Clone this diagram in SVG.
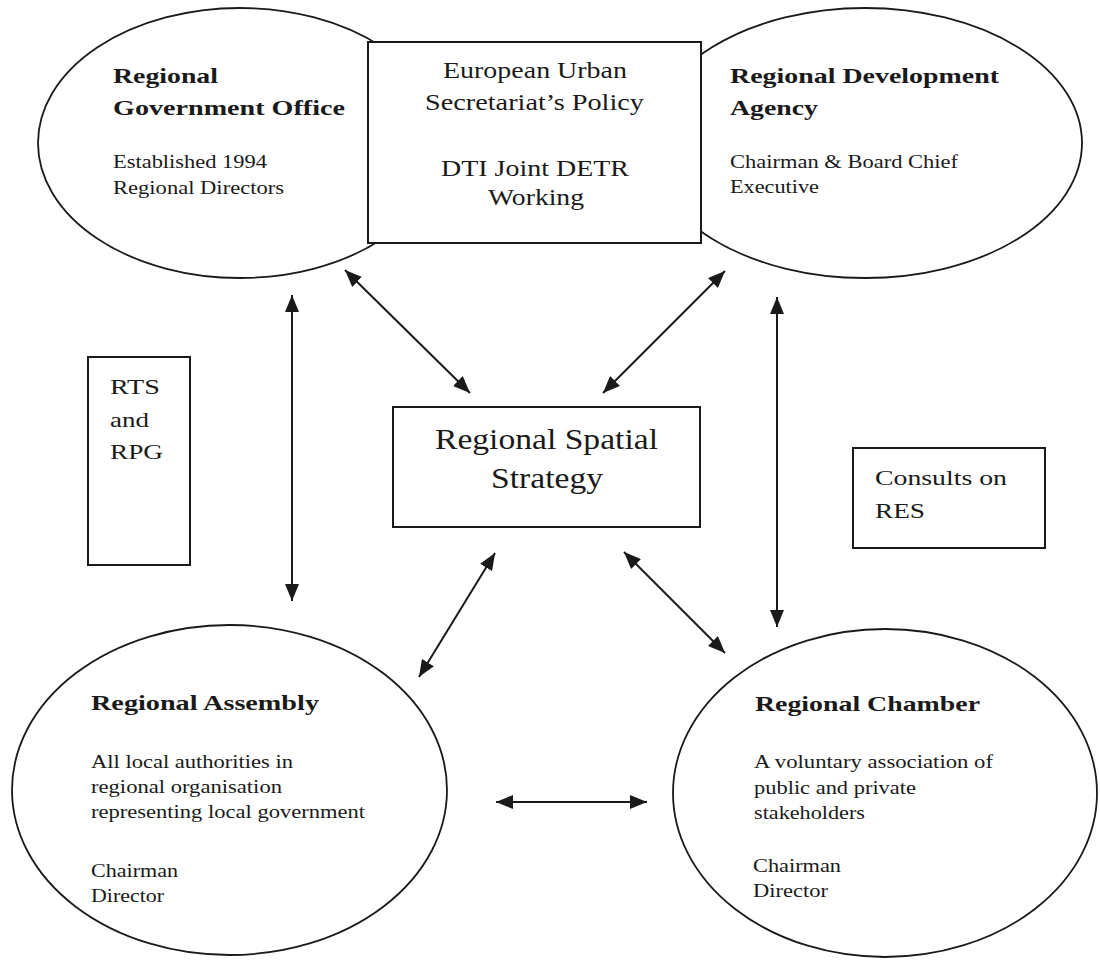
<svg xmlns="http://www.w3.org/2000/svg" width="1100" height="961" viewBox="0 0 1100 961">
<style>
.shape{fill:#fff;stroke:#1a1a1a;stroke-width:2}
.ell{stroke-width:1.8}
.t{font-family:"Liberation Serif","Times New Roman",serif;fill:#1a1a1a}
.b{font-weight:bold;font-size:22px}
.r{font-size:19px}
.m{font-size:23px}
.l{font-size:29px}
.s{font-size:22px}
.conn line{stroke:#1a1a1a;stroke-width:2;marker-start:url(#ah);marker-end:url(#ah)}
</style>
<defs>
<marker id="ah" viewBox="0 0 17 14" refX="17" refY="7" markerWidth="17" markerHeight="14" markerUnits="userSpaceOnUse" orient="auto-start-reverse">
<path d="M0,0 L17,7 L0,14 z" fill="#1a1a1a"/>
</marker>
</defs>
<rect width="1100" height="961" fill="#fff"/>
<g id="node-rgo">
<ellipse class="shape ell" cx="240" cy="143" rx="202" ry="135"/>
<text class="t b" x="113" y="83" textLength="105" lengthAdjust="spacingAndGlyphs">Regional</text>
<text class="t b" x="113" y="115" textLength="232" lengthAdjust="spacingAndGlyphs">Government Office</text>
<text class="t r" x="113" y="168" textLength="154" lengthAdjust="spacingAndGlyphs">Established 1994</text>
<text class="t r" x="113" y="194" textLength="171" lengthAdjust="spacingAndGlyphs">Regional Directors</text>
</g>
<g id="node-rda">
<ellipse class="shape ell" cx="865" cy="143" rx="217" ry="135"/>
<text class="t b" x="730" y="83" textLength="269" lengthAdjust="spacingAndGlyphs">Regional Development</text>
<text class="t b" x="730" y="115" textLength="88" lengthAdjust="spacingAndGlyphs">Agency</text>
<text class="t r" x="730" y="168" textLength="228" lengthAdjust="spacingAndGlyphs">Chairman &amp; Board Chief</text>
<text class="t r" x="730" y="193" textLength="89" lengthAdjust="spacingAndGlyphs">Executive</text>
</g>
<g id="node-eusp">
<rect class="shape" x="368" y="42" width="333" height="201"/>
<text class="t m" x="443" y="78" textLength="184" lengthAdjust="spacingAndGlyphs">European Urban</text>
<text class="t m" x="425" y="110" textLength="219" lengthAdjust="spacingAndGlyphs">Secretariat’s Policy</text>
<text class="t m" x="441" y="176" textLength="188" lengthAdjust="spacingAndGlyphs">DTI Joint DETR</text>
<text class="t m" x="488" y="205" textLength="96" lengthAdjust="spacingAndGlyphs">Working</text>
</g>
<g id="node-rts">
<rect class="shape" x="88" y="357" width="102" height="208"/>
<text class="t s" x="110" y="394" textLength="50" lengthAdjust="spacingAndGlyphs">RTS</text>
<text class="t s" x="110" y="427" textLength="39" lengthAdjust="spacingAndGlyphs">and</text>
<text class="t s" x="110" y="459" textLength="53" lengthAdjust="spacingAndGlyphs">RPG</text>
</g>
<g id="node-rss">
<rect class="shape" x="393" y="407" width="307" height="120"/>
<text class="t l" x="435" y="449" textLength="223" lengthAdjust="spacingAndGlyphs">Regional Spatial</text>
<text class="t l" x="491" y="488" textLength="112" lengthAdjust="spacingAndGlyphs">Strategy</text>
</g>
<g id="node-res">
<rect class="shape" x="853" y="448" width="192" height="100"/>
<text class="t s" x="875" y="485" textLength="132" lengthAdjust="spacingAndGlyphs">Consults on</text>
<text class="t s" x="875" y="518" textLength="50" lengthAdjust="spacingAndGlyphs">RES</text>
</g>
<g id="node-ra">
<ellipse class="shape ell" cx="229.5" cy="790" rx="217.5" ry="165"/>
<text class="t b" x="91" y="710" textLength="228" lengthAdjust="spacingAndGlyphs">Regional Assembly</text>
<text class="t r" x="91" y="768" textLength="202" lengthAdjust="spacingAndGlyphs">All local authorities in</text>
<text class="t r" x="91" y="793" textLength="191" lengthAdjust="spacingAndGlyphs">regional organisation</text>
<text class="t r" x="91" y="818" textLength="274" lengthAdjust="spacingAndGlyphs">representing local government</text>
<text class="t r" x="91" y="877" textLength="87" lengthAdjust="spacingAndGlyphs">Chairman</text>
<text class="t r" x="91" y="902" textLength="73" lengthAdjust="spacingAndGlyphs">Director</text>
</g>
<g id="node-rc">
<ellipse class="shape ell" cx="885" cy="793" rx="212" ry="164"/>
<text class="t b" x="755" y="711" textLength="225" lengthAdjust="spacingAndGlyphs">Regional Chamber</text>
<text class="t r" x="754" y="768" textLength="239" lengthAdjust="spacingAndGlyphs">A voluntary association of</text>
<text class="t r" x="754" y="794" textLength="162" lengthAdjust="spacingAndGlyphs">public and private</text>
<text class="t r" x="754" y="819" textLength="111" lengthAdjust="spacingAndGlyphs">stakeholders</text>
<text class="t r" x="753" y="872" textLength="88" lengthAdjust="spacingAndGlyphs">Chairman</text>
<text class="t r" x="753" y="897" textLength="75" lengthAdjust="spacingAndGlyphs">Director</text>
</g>
<g id="connectors" class="conn">
<line x1="292" y1="295" x2="292" y2="601"/>
<line x1="345" y1="270" x2="470" y2="393"/>
<line x1="725" y1="271" x2="603" y2="393"/>
<line x1="777" y1="297" x2="777" y2="627"/>
<line x1="495" y1="553" x2="419" y2="677"/>
<line x1="624" y1="552" x2="725" y2="653"/>
<line x1="496" y1="802" x2="647" y2="802"/>
</g>
</svg>
